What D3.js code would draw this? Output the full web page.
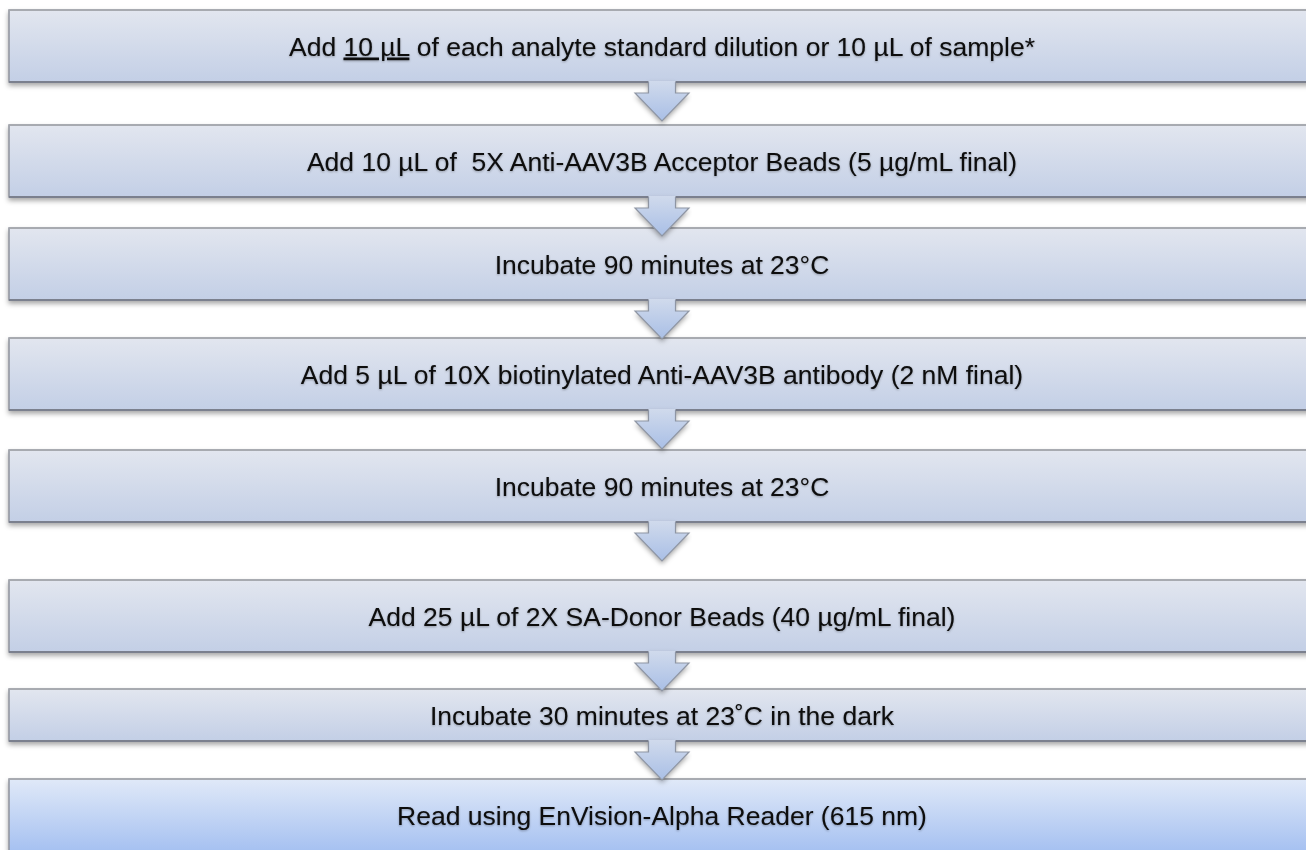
<!DOCTYPE html>
<html>
<head>
<meta charset="utf-8">
<script src="https://cdn.jsdelivr.net/npm/d3@7/dist/d3.min.js"></script>
<style>
  html, body { margin: 0; padding: 0; background: #ffffff; overflow: hidden; }
  svg { display: block; }
  text { font-family: "Liberation Sans", Arial, sans-serif; }
</style>
</head>
<body>
<svg id="chart" width="1306" height="850"></svg>
<script>
// ---- data ----
const steps = [
  [{t: "Add "}, {t: "10 µL", u: true}, {t: " of each analyte standard dilution or 10 µL of sample*"}],
  [{t: "Add 10 µL of  5X Anti-AAV3B Acceptor Beads (5 µg/mL final)"}],
  [{t: "Incubate 90 minutes at 23°C"}],
  [{t: "Add 5 µL of 10X biotinylated Anti-AAV3B antibody (2 nM final)"}],
  [{t: "Incubate 90 minutes at 23°C"}],
  [{t: "Add 25 µL of 2X SA-Donor Beads (40 µg/mL final)"}],
  [{t: "Incubate 30 minutes at 23˚C in the dark"}],
  [{t: "Read using EnVision-Alpha Reader (615 nm)"}]
];
const stepKind = ["normal","normal","normal","normal","normal","normal","normal","final"];

// ---- layout ----
const boxTops    = [10, 125, 228, 338, 450, 580, 689, 779];
const boxHeights = [72, 72, 72, 72, 72, 72, 52, 72];
const boxLeft = 9, boxWidth = 1306;
const centerX = boxLeft + boxWidth / 2;

const idx = d3.range(steps.length);
const yTop = d3.scaleOrdinal().domain(idx).range(boxTops);
const hgt  = d3.scaleOrdinal().domain(idx).range(boxHeights);

const svg = d3.select("#chart");
const defs = svg.append("defs");

function grad(id, c0, c1) {
  const g = defs.append("linearGradient").attr("id", id)
    .attr("x1", 0).attr("y1", 0).attr("x2", 0).attr("y2", 1);
  g.append("stop").attr("offset", "0%").attr("stop-color", c0);
  g.append("stop").attr("offset", "100%").attr("stop-color", c1);
}
grad("gNormal", "#e2e6ef", "#c3cfe6");
grad("gFinal", "#e0e9f8", "#a6c1f1");
grad("gArrow", "#d0daec", "#a9bfe6");

const sh = defs.append("filter").attr("id", "shadow")
  .attr("x", "-5%").attr("y", "-20%").attr("width", "110%").attr("height", "160%");
sh.append("feDropShadow").attr("dx", 0).attr("dy", 3).attr("stdDeviation", 2.5)
  .attr("flood-color", "#000").attr("flood-opacity", 0.35);

const tsh = defs.append("filter").attr("id", "tshadow")
  .attr("x", "-5%").attr("y", "-30%").attr("width", "110%").attr("height", "160%");
tsh.append("feDropShadow").attr("dx", 0).attr("dy", 1).attr("stdDeviation", 1.2)
  .attr("flood-color", "#000").attr("flood-opacity", 0.3);

// ---- boxes ----
const boxes = svg.append("g").selectAll("g.box").data(idx).join("g").attr("class", "box");

boxes.append("rect")
  .attr("x", boxLeft).attr("y", d => yTop(d))
  .attr("width", boxWidth).attr("height", d => hgt(d))
  .attr("fill", d => stepKind[d] === "final" ? "url(#gFinal)" : "url(#gNormal)")
  .attr("stroke", "#8e929c").attr("stroke-width", 1.5)
  .attr("filter", "url(#shadow)");

// top highlight line (lighter) and bottom darker line
boxes.append("line")
  .attr("x1", boxLeft).attr("x2", boxLeft + boxWidth)
  .attr("y1", d => yTop(d)).attr("y2", d => yTop(d))
  .attr("stroke", "#a9abb0").attr("stroke-width", 1.5);
boxes.append("line")
  .attr("x1", boxLeft).attr("x2", boxLeft + boxWidth)
  .attr("y1", d => yTop(d) + hgt(d)).attr("y2", d => yTop(d) + hgt(d))
  .attr("stroke", "#7b808e").attr("stroke-width", 2);

// ---- arrows ----
const stemH = 11, headH = 28, stemHalf = 13.5, headHalf = 27;
function arrowPath(i) {
  const y0 = yTop(i) + hgt(i) - 1;
  const y1 = y0 + stemH + 1;
  const y2 = y1 + headH;
  const p = d3.path();
  p.moveTo(centerX - stemHalf, y0);
  p.lineTo(centerX + stemHalf, y0);
  p.lineTo(centerX + stemHalf, y1);
  p.lineTo(centerX + headHalf, y1);
  p.lineTo(centerX, y2);
  p.lineTo(centerX - headHalf, y1);
  p.lineTo(centerX - stemHalf, y1);
  p.closePath();
  return p.toString();
}
function arrowOutline(i) {
  const y0 = yTop(i) + hgt(i);
  const y1 = y0 + stemH;
  const y2 = y1 + headH;
  const p = d3.path();
  p.moveTo(centerX - stemHalf, y0);
  p.lineTo(centerX - stemHalf, y1);
  p.lineTo(centerX - headHalf, y1);
  p.lineTo(centerX, y2);
  p.lineTo(centerX + headHalf, y1);
  p.lineTo(centerX + stemHalf, y1);
  p.lineTo(centerX + stemHalf, y0);
  return p.toString();
}
const arrows = svg.append("g").selectAll("g.arrow").data(idx.slice(0, -1)).join("g").attr("class", "arrow");
arrows.append("path").attr("d", arrowPath)
  .attr("fill", "url(#gArrow)").attr("filter", "url(#shadow)");
arrows.append("path").attr("d", arrowOutline)
  .attr("fill", "none").attr("stroke", "#8e95a3").attr("stroke-width", 1.2);

// ---- labels ----
const labels = svg.append("g").selectAll("text").data(idx).join("text")
  .attr("x", centerX)
  .attr("y", d => yTop(d) + hgt(d) / 2)
  .attr("dy", "0.36em")
  .attr("text-anchor", "middle")
  .attr("font-size", 26.5)
  .attr("fill", "#0a0a0a")
  .attr("xml:space", "preserve")
  .style("white-space", "pre")
  .attr("filter", "url(#tshadow)");

labels.selectAll("tspan").data(d => steps[d]).join("tspan")
  .text(s => s.t)
  .style("text-decoration", s => s.u ? "underline" : null);
</script>
</body>
</html>
